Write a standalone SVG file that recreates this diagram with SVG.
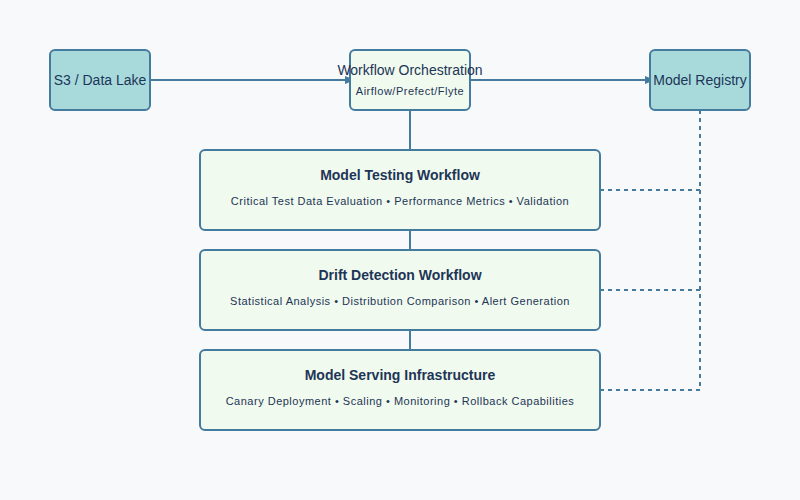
<svg xmlns="http://www.w3.org/2000/svg" width="800" height="500" viewBox="0 0 800 500">
<style>
.node rect{stroke:#457b9d;stroke-width:2}
.teal{fill:#a8dadc}
.green{fill:#f1faee}
text{font-family:"Liberation Sans",Arial,sans-serif;fill:#1d3557;text-anchor:middle}
.lbl{font-size:14px}
.title{font-size:14px;font-weight:bold}
.sub{font-size:11px;letter-spacing:0.5px}
.conn line,.conn path{stroke:#457b9d;stroke-width:2;fill:none}
.conn .dash{stroke-dasharray:4 4}
</style>
<defs>
<marker id="arrow" markerUnits="userSpaceOnUse" markerWidth="10" markerHeight="10" refX="5" refY="5" orient="auto">
<polygon points="0,1 10,5 0,9" fill="#457b9d"/>
</marker>
</defs>
<rect width="800" height="500" fill="#f8f9fa"/>
<g class="conn">
<line x1="150" y1="80" x2="350" y2="80" marker-end="url(#arrow)"/>
<line x1="470" y1="80" x2="650" y2="80" marker-end="url(#arrow)"/>
<line x1="410" y1="110" x2="410" y2="150"/>
<line x1="410" y1="230" x2="410" y2="250"/>
<line x1="410" y1="330" x2="410" y2="350"/>
<path class="dash" d="M700,110 V390"/>
<path class="dash" d="M600,190 H700"/>
<path class="dash" d="M600,290 H700"/>
<path class="dash" d="M600,390 H700"/>
</g>
<g id="s3" class="node">
<rect class="teal" x="50" y="50" width="100" height="60" rx="5"/>
<text class="lbl" x="100" y="85">S3 / Data Lake</text>
</g>
<g id="orchestration" class="node">
<rect class="green" x="350" y="50" width="120" height="60" rx="5"/>
<text class="lbl" x="410" y="75">Workflow Orchestration</text>
<text class="sub" x="410" y="95" letter-spacing="0.3">Airflow/Prefect/Flyte</text>
</g>
<g id="registry" class="node">
<rect class="teal" x="650" y="50" width="100" height="60" rx="5"/>
<text class="lbl" x="700" y="85">Model Registry</text>
</g>
<g id="testing" class="node">
<rect class="green" x="200" y="150" width="400" height="80" rx="5"/>
<text class="title" x="400" y="180">Model Testing Workflow</text>
<text class="sub" x="400" y="205">Critical Test Data Evaluation • Performance Metrics • Validation</text>
</g>
<g id="drift" class="node">
<rect class="green" x="200" y="250" width="400" height="80" rx="5"/>
<text class="title" x="400" y="280">Drift Detection Workflow</text>
<text class="sub" x="400" y="305">Statistical Analysis • Distribution Comparison • Alert Generation</text>
</g>
<g id="serving" class="node">
<rect class="green" x="200" y="350" width="400" height="80" rx="5"/>
<text class="title" x="400" y="380">Model Serving Infrastructure</text>
<text class="sub" x="400" y="405">Canary Deployment • Scaling • Monitoring • Rollback Capabilities</text>
</g>
</svg>
